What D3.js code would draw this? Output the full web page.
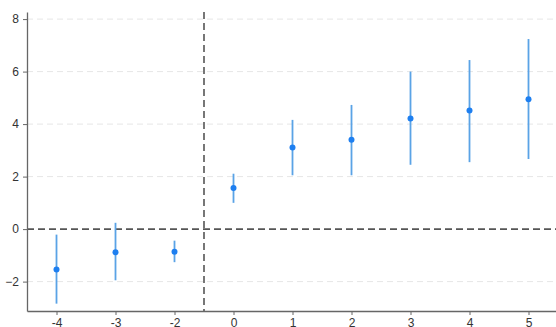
<!DOCTYPE html>
<html>
<head>
<meta charset="utf-8">
<script src="https://cdn.jsdelivr.net/npm/d3@7"></script>
<style>
  body { margin: 0; background: #fff; }
  svg { display: block; font-family: "Liberation Sans", Arial, sans-serif; }
</style>
</head>
<body>
<div id="chart"></div>
<script>
// event-time categories (period -1 is the omitted reference)
const periods = ['-4', '-3', '-2', '0', '1', '2', '3', '4', '5'];
const estimates = [-1.54, -0.88, -0.86, 1.57, 3.11, 3.40, 4.21, 4.52, 4.95];
const ciLow = [-2.84, -1.95, -1.26, 1.00, 2.05, 2.05, 2.45, 2.55, 2.67];
const ciHigh = [-0.21, 0.24, -0.44, 2.11, 4.16, 4.73, 6.00, 6.44, 7.24];
const yTicks = [-2, 0, 2, 4, 6, 8];

const width = 556, height = 327;
const margin = { top: 12, right: -2, bottom: 16, left: 27 };

const svg = d3.select('#chart').append('svg')
  .attr('width', width)
  .attr('height', height);

const x = d3.scalePoint()
  .domain(periods)
  .range([margin.left, width - margin.right])
  .padding(0.5);

const y = d3.scaleLinear()
  .domain([-3.12, 8.27])
  .range([height - margin.bottom, margin.top]);

// 背景网格线
svg.append('g')
  .selectAll('line')
  .data(yTicks.filter(d => d !== 0))
  .join('line')
  .attr('x1', margin.left)
  .attr('x2', width)
  .attr('y1', d => y(d))
  .attr('y2', d => y(d))
  .attr('stroke', '#e6e6e6')
  .attr('stroke-width', 1)
  .attr('stroke-dasharray', '6,4');

// 参考线：y = 0 和 处理时点
svg.append('line')
  .attr('x1', margin.left)
  .attr('x2', width)
  .attr('y1', y(0))
  .attr('y2', y(0))
  .attr('stroke', '#555')
  .attr('stroke-width', 1.6)
  .attr('stroke-dasharray', '7,4');

const step = x.step();
svg.append('line')
  .attr('x1', x('-2') + step / 2)
  .attr('x2', x('-2') + step / 2)
  .attr('y1', margin.top)
  .attr('y2', height - margin.bottom)
  .attr('stroke', '#555')
  .attr('stroke-width', 1.6)
  .attr('stroke-dasharray', '7,4');

// 置信区间
svg.append('g')
  .selectAll('line')
  .data(periods)
  .join('line')
  .attr('x1', d => x(d))
  .attr('x2', d => x(d))
  .attr('y1', (d, i) => y(ciLow[i]))
  .attr('y2', (d, i) => y(ciHigh[i]))
  .attr('stroke', '#5aa3e6')
  .attr('stroke-width', 1.8);

// 点估计
svg.append('g')
  .selectAll('circle')
  .data(periods)
  .join('circle')
  .attr('cx', d => x(d))
  .attr('cy', (d, i) => y(estimates[i]))
  .attr('r', 3)
  .attr('fill', '#1e7ff0');

// 坐标轴
const yAxis = svg.append('g')
  .attr('transform', `translate(${margin.left},0)`)
  .call(d3.axisLeft(y).tickValues(yTicks).tickSize(4).tickPadding(4).tickSizeOuter(0));

const xAxis = svg.append('g')
  .attr('transform', `translate(0,${height - margin.bottom})`)
  .call(d3.axisBottom(x).tickSize(4).tickPadding(3).tickSizeOuter(0));

[yAxis, xAxis].forEach(ax => {
  ax.select('.domain').attr('stroke', '#666').attr('stroke-width', 1.3);
  ax.selectAll('.tick line').attr('stroke', '#666');
  ax.selectAll('.tick text').attr('fill', '#333').style('font-size', '12px');
});
</script>
</body>
</html>
